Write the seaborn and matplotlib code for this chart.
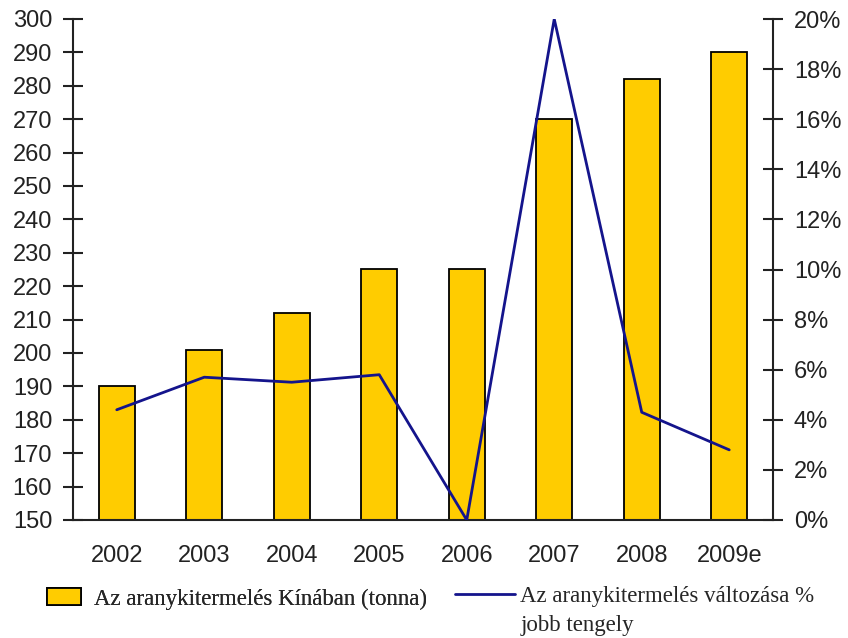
import numpy as np
import pandas as pd
import seaborn as sns
import matplotlib.pyplot as plt
from matplotlib.patches import Patch
from matplotlib.lines import Line2D
from matplotlib.ticker import FixedLocator, PercentFormatter

years = ['2002', '2003', '2004', '2005', '2006', '2007', '2008', '2009e']
production = [190, 201, 212, 225, 225, 270, 282, 290]
change_pct = [4.4, 5.7, 5.5, 5.8, 0.0, 20.0, 4.3, 2.8]

df = pd.DataFrame({'Year': years, 'Production': production, 'Change': change_pct})

sns.set_style('white')
plt.rcParams['font.family'] = ['Liberation Sans', 'DejaVu Sans']

fig = plt.figure(figsize=(8.48, 6.38), dpi=100)
ax = fig.add_axes([73/848, 1-520/638, 700/848, 501/638])

sns.barplot(data=df, x='Year', y='Production', color='#FFCC00', edgecolor='black',
            linewidth=1.3, width=0.41, saturation=1, ax=ax)
ax.set_ylim(150, 300)
ax.set_xlim(-0.5, len(years) - 0.5)
ax.set_yticks(range(150, 301, 10))
ax.set_xlabel('')
ax.set_ylabel('')

ax2 = ax.twinx()
sns.lineplot(x=np.arange(len(years)), y=df['Change'], color='#14148C', linewidth=2, ax=ax2)
ax2.set_ylim(0, 20)
ax2.set_yticks(range(0, 21, 2))
ax2.yaxis.set_major_formatter(PercentFormatter(decimals=0))
ax2.set_ylabel('')

for a in (ax, ax2):
    a.spines['top'].set_visible(False)
    for s in ('left', 'right', 'bottom'):
        a.spines[s].set_linewidth(1.5)
        a.spines[s].set_color('#222222')
    a.tick_params(axis='y', direction='inout', length=14, width=1.5, labelsize=17,
                  colors='#222222', pad=8)
ax.spines['right'].set_visible(False)
ax2.spines['left'].set_visible(False)
ax2.spines['bottom'].set_visible(False)

# category boundary ticks on x axis
ax.xaxis.set_minor_locator(FixedLocator(np.arange(-0.5, len(years), 1.0)))
ax.tick_params(axis='x', which='major', length=0, labelsize=17, pad=18, colors='#222222')
ax.tick_params(axis='x', which='minor', direction='inout', length=14, width=1.5, color='#222222')
ax.yaxis.tick_left()
ax2.yaxis.tick_right()

serif = {'family': 'Liberation Serif', 'size': 16.5}
leg1 = fig.legend([Patch(facecolor='#FFCC00', edgecolor='black', linewidth=1.3)],
                  ['Az aranykitermelés Kínában (tonna)'],
                  loc='center left', bbox_to_anchor=(47/848, 1-599/638),
                  frameon=False, prop=serif, borderpad=0, borderaxespad=0,
                  handlelength=1.5, handleheight=0.75, handletextpad=0.55)
leg2 = fig.legend([Line2D([0], [0], color='#14148C', linewidth=2)],
                  ['Az aranykitermelés változása %'],
                  loc='center left', bbox_to_anchor=(455/848, 1-596/638),
                  frameon=False, prop=serif, borderpad=0, borderaxespad=0,
                  handlelength=2.6, handletextpad=0.25)
fig.add_artist(leg1)
fig.text(521/848, 1-625/638, 'jobb tengely', ha='left', va='center',
         family='Liberation Serif', size=16.5)

fig.savefig('out.png', dpi=100)
